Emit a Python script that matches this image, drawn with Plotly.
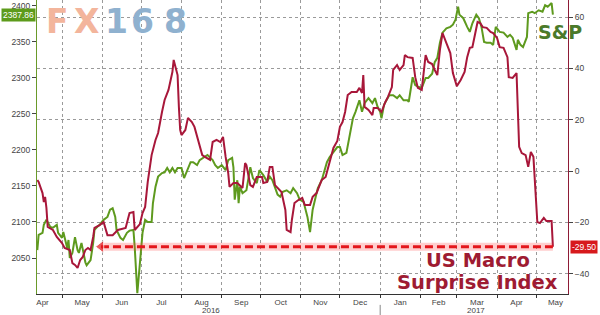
import plotly.graph_objects as go

# ---------------- data ----------------
spx_dates = [
    "2016-04-12", "2016-04-13", "2016-04-16", "2016-04-17", "2016-04-19", "2016-04-22", "2016-04-24",
    "2016-04-27", "2016-04-28", "2016-05-01", "2016-05-02", "2016-05-05", "2016-05-06", "2016-05-07",
    "2016-05-09", "2016-05-11", "2016-05-13", "2016-05-14", "2016-05-16", "2016-05-17", "2016-05-19",
    "2016-05-20", "2016-05-23", "2016-05-25", "2016-05-26", "2016-05-28", "2016-05-30", "2016-06-02",
    "2016-06-05", "2016-06-07", "2016-06-09", "2016-06-11", "2016-06-12", "2016-06-15", "2016-06-17",
    "2016-06-20", "2016-06-22", "2016-06-25", "2016-06-26", "2016-06-28", "2016-06-30", "2016-07-02",
    "2016-07-04", "2016-07-06", "2016-07-09", "2016-07-10", "2016-07-12", "2016-07-14", "2016-07-17",
    "2016-07-19", "2016-07-21", "2016-07-23", "2016-07-25", "2016-07-27", "2016-07-29", "2016-08-01",
    "2016-08-03", "2016-08-05", "2016-08-08", "2016-08-10", "2016-08-13", "2016-08-15", "2016-08-18",
    "2016-08-21", "2016-08-25", "2016-08-27", "2016-08-29", "2016-09-01", "2016-09-04", "2016-09-06",
    "2016-09-09", "2016-09-10", "2016-09-11", "2016-09-13", "2016-09-14", "2016-09-15", "2016-09-17",
    "2016-09-20", "2016-09-23", "2016-09-25", "2016-09-28", "2016-09-30", "2016-10-03", "2016-10-06",
    "2016-10-08", "2016-10-10", "2016-10-14", "2016-10-16", "2016-10-18", "2016-10-21", "2016-10-24",
    "2016-10-26", "2016-10-29", "2016-10-31", "2016-11-03", "2016-11-06", "2016-11-08", "2016-11-10",
    "2016-11-13", "2016-11-14", "2016-11-17", "2016-11-20", "2016-11-21", "2016-11-23", "2016-11-26",
    "2016-11-29", "2016-12-01", "2016-12-03", "2016-12-06", "2016-12-09", "2016-12-11", "2016-12-13",
    "2016-12-16", "2016-12-18", "2016-12-20", "2016-12-23", "2016-12-26", "2016-12-28", "2016-12-30",
    "2017-01-01", "2017-01-02", "2017-01-04", "2017-01-06", "2017-01-08", "2017-01-11", "2017-01-14",
    "2017-01-16", "2017-01-19", "2017-01-22", "2017-01-23", "2017-01-26", "2017-01-28", "2017-01-30",
    "2017-02-02", "2017-02-05", "2017-02-07", "2017-02-10", "2017-02-12", "2017-02-14", "2017-02-16",
    "2017-02-18", "2017-02-21", "2017-02-24", "2017-02-26", "2017-02-28", "2017-03-02", "2017-03-03",
    "2017-03-06", "2017-03-09", "2017-03-11", "2017-03-13", "2017-03-16", "2017-03-18", "2017-03-20",
    "2017-03-22", "2017-03-24", "2017-03-27", "2017-03-29", "2017-03-31", "2017-04-03", "2017-04-06",
    "2017-04-09", "2017-04-11", "2017-04-13", "2017-04-16", "2017-04-17", "2017-04-19", "2017-04-21",
    "2017-04-24", "2017-04-25", "2017-04-28", "2017-04-30", "2017-05-03", "2017-05-06", "2017-05-08",
    "2017-05-10", "2017-05-13", "2017-05-14",
]
spx_values = [
    2061, 2082, 2085, 2096, 2103, 2093, 2092,
    2096, 2085, 2078, 2086, 2064, 2075, 2050,
    2057, 2079, 2061, 2057, 2071, 2061, 2044,
    2040, 2047, 2071, 2089, 2093, 2096, 2103,
    2107, 2117, 2119, 2107, 2089, 2078, 2075,
    2085, 2088, 2089, 2065, 2001, 2047, 2085,
    2103, 2100, 2100, 2126, 2149, 2163, 2168,
    2169, 2175, 2169, 2175, 2169, 2175, 2175,
    2161, 2169, 2183, 2183, 2179, 2186, 2190,
    2193, 2186, 2179, 2175, 2179, 2172, 2186,
    2189, 2176, 2131, 2158, 2126, 2149, 2140,
    2144, 2176, 2161, 2154, 2172, 2165, 2156,
    2163, 2158, 2138, 2135, 2142, 2144, 2140,
    2147, 2140, 2131, 2128, 2107, 2086, 2117,
    2140, 2147, 2158, 2176, 2183, 2190, 2197,
    2204, 2204, 2193, 2196, 2224, 2244, 2253,
    2269, 2253, 2265, 2272, 2265, 2272, 2260,
    2253, 2244, 2263, 2269, 2276, 2276, 2272,
    2276, 2269, 2269, 2267, 2301, 2290, 2288,
    2286, 2300, 2300, 2306, 2322, 2328, 2349,
    2363, 2369, 2371, 2374, 2381, 2399, 2388,
    2383, 2371, 2364, 2376, 2388, 2383, 2371,
    2350, 2349, 2349, 2346, 2371, 2364, 2363,
    2357, 2360, 2356, 2339, 2353, 2346, 2343,
    2357, 2390, 2392, 2390, 2394, 2392, 2401,
    2399, 2404, 2387.86,
]

macro_dates = [
    "2016-04-12", "2016-04-13", "2016-04-16", "2016-04-17", "2016-04-18", "2016-04-19", "2016-04-20",
    "2016-04-24", "2016-04-27", "2016-05-01", "2016-05-03", "2016-05-07", "2016-05-09", "2016-05-11",
    "2016-05-13", "2016-05-15", "2016-05-17", "2016-05-19", "2016-05-21", "2016-05-23", "2016-05-25",
    "2016-05-26", "2016-05-30", "2016-06-02", "2016-06-05", "2016-06-09", "2016-06-13", "2016-06-19",
    "2016-06-22", "2016-06-25", "2016-06-26", "2016-06-30", "2016-07-02", "2016-07-04", "2016-07-06",
    "2016-07-09", "2016-07-12", "2016-07-14", "2016-07-17", "2016-07-19", "2016-07-22", "2016-07-25",
    "2016-07-26", "2016-07-29", "2016-07-30", "2016-07-31", "2016-08-01", "2016-08-04", "2016-08-06",
    "2016-08-09", "2016-08-11", "2016-08-14", "2016-08-17", "2016-08-19", "2016-08-23", "2016-08-25",
    "2016-08-28", "2016-08-31", "2016-09-02", "2016-09-04", "2016-09-06", "2016-09-07", "2016-09-10",
    "2016-09-13", "2016-09-17", "2016-09-19", "2016-09-20", "2016-09-23", "2016-09-25", "2016-09-28",
    "2016-10-02", "2016-10-03", "2016-10-06", "2016-10-08", "2016-10-10", "2016-10-12", "2016-10-14",
    "2016-10-17", "2016-10-20", "2016-10-21", "2016-10-24", "2016-10-25", "2016-10-27", "2016-10-30",
    "2016-11-02", "2016-11-04", "2016-11-08", "2016-11-10", "2016-11-13", "2016-11-17", "2016-11-20",
    "2016-11-22", "2016-11-23", "2016-11-26", "2016-11-29", "2016-12-01", "2016-12-03", "2016-12-05",
    "2016-12-07", "2016-12-10", "2016-12-14", "2016-12-16", "2016-12-18", "2016-12-19", "2016-12-20",
    "2016-12-23", "2016-12-26", "2016-12-27", "2016-12-30", "2017-01-02", "2017-01-05", "2017-01-07",
    "2017-01-10", "2017-01-11", "2017-01-14", "2017-01-16", "2017-01-19", "2017-01-20", "2017-01-22",
    "2017-01-26", "2017-01-28", "2017-01-30", "2017-02-02", "2017-02-05", "2017-02-07", "2017-02-10",
    "2017-02-12", "2017-02-14", "2017-02-16", "2017-02-18", "2017-02-21", "2017-02-24", "2017-02-26",
    "2017-03-01", "2017-03-04", "2017-03-07", "2017-03-09", "2017-03-11", "2017-03-13", "2017-03-17",
    "2017-03-19", "2017-03-21", "2017-03-24", "2017-03-27", "2017-03-29", "2017-04-01", "2017-04-03",
    "2017-04-06", "2017-04-09", "2017-04-10", "2017-04-13", "2017-04-16", "2017-04-17", "2017-04-18",
    "2017-04-20", "2017-04-23", "2017-04-25", "2017-04-27", "2017-04-29", "2017-04-30", "2017-05-02",
    "2017-05-04", "2017-05-07", "2017-05-09", "2017-05-13", "2017-05-14",
]
macro_values = [
    -3.5, -4.3, -8.6, -12.1, -10.1, -14.4, -21.8,
    -23.0, -25.7, -28.1, -30.0, -30.8, -35.9, -36.6,
    -37.8, -34.7, -33.5, -30.8, -30.0, -30.8, -25.7,
    -22.2, -21.1, -19.9, -25.0, -25.0, -23.0, -22.2,
    -16.4, -16.0, -23.0, -20.7, -16.4, -14.0, -4.3,
    6.2, 12.1, 14.8, 23.0, 27.7, 31.6, 38.6,
    43.3, 37.4, 25.0, 16.0, 14.0, 16.0, 20.7,
    19.1, 17.2, 12.1, 6.2, 5.5, 4.3, 11.3,
    12.1, 11.3, 13.3, 5.5, -0.8, -6.2, -4.7,
    -4.7, -6.6, 3.1, 2.3, -5.5, -6.2, -2.3,
    -2.3, -4.7, -4.3, 1.6, 1.6, -5.5, -6.6,
    -8.2, -15.2, -23.0, -23.8, -19.1, -12.5, -11.3,
    -10.5, -13.3, -13.3, -10.1, -8.6, -3.5, -2.3,
    1.6, 4.3, 9.0, 11.7, 17.2, 19.1, 23.0,
    29.6, 30.8, 30.8, 32.4, 30.4, 37.4, 25.0,
    23.8, 21.8, 24.6, 24.6, 23.0, 26.9, 28.9,
    32.7, 39.4, 41.3, 39.4, 41.3, 45.2, 44.4,
    44.1, 36.6, 32.4, 31.6, 45.2, 42.5, 41.7,
    39.4, 37.4, 47.2, 53.8, 49.9, 46.0, 38.2,
    33.1, 35.5, 38.6, 44.4, 48.0, 48.3, 58.1,
    57.7, 56.1, 55.8, 54.2, 53.8, 51.9, 48.3,
    48.0, 44.4, 36.6, 36.3, 38.2, 23.8, 9.4,
    7.0, 6.2, 1.6, 7.4, 5.5, -3.5, -19.9,
    -20.3, -18.3, -19.5, -19.5, -29.5,
]

arrow_start = "2016-05-31"
spx_ticks = [2050, 2100, 2150, 2200, 2250, 2300, 2350, 2400]
macro_ticks = [-40, -20, 0, 20, 40, 60]
x_range = ["2016-04-11 18:00", "2017-05-25 15:00"]

GREEN = "#5E9A1E"
RED = "#A8173A"
ARROW = "#E3161B"
FONT = "Liberation Sans, Arial, sans-serif"
BOLD = "DejaVu Sans, sans-serif"
TICK = 8.5
XTICK = 8

fig = go.Figure()
fig.add_trace(go.Scatter(x=spx_dates, y=spx_values, mode="lines",
                         line=dict(color=GREEN, width=2), yaxis="y", hoverinfo="skip"))
fig.add_trace(go.Scatter(x=macro_dates, y=macro_values, mode="lines",
                         line=dict(color=RED, width=2), yaxis="y2", hoverinfo="skip"))

last_macro = macro_values[-1]
# glow under the dashed arrow
fig.add_trace(go.Scatter(x=[arrow_start, macro_dates[-1]], y=[last_macro, last_macro],
                         mode="lines", line=dict(color="rgba(255,60,60,0.25)", width=8),
                         yaxis="y2", hoverinfo="skip"))
fig.add_trace(go.Scatter(x=[arrow_start, macro_dates[-1]], y=[last_macro, last_macro],
                         mode="lines+markers",
                         line=dict(color=ARROW, width=3, dash="8px,4px"),
                         marker=dict(symbol="triangle-left", size=[11, 0], color=ARROW),
                         yaxis="y2", hoverinfo="skip"))

fig.update_layout(
    width=600, height=315,
    margin=dict(l=37, r=32, t=0, b=21),
    paper_bgcolor="white", plot_bgcolor="white",
    showlegend=False,
    font=dict(family=FONT, size=TICK, color="#444"),
    xaxis=dict(
        type="date", range=x_range, dtick="M1", tick0="2016-05-01",
        tickformat="%b", ticklabelmode="period",
        ticks="outside", ticklen=3, tickcolor="#333", ticklabelstandoff=-3,
        showline=True, linecolor="#333", linewidth=1,
        showgrid=True, gridcolor="#9a9a9a", griddash="dot", gridwidth=1,
        tickfont=dict(size=XTICK, color="#444"),
    ),
    yaxis=dict(
        range=[2000, 2408.3], tickvals=spx_ticks, side="left",
        showline=True, linecolor="#6A9A2A", linewidth=1,
        ticks="outside", ticklen=4, tickcolor="#444",
        showgrid=False, zeroline=False,
        tickfont=dict(size=TICK, color="#444"),
    ),
    yaxis2=dict(
        range=[-47.95, 66.67], tickvals=macro_ticks, side="right", overlaying="y",
        showline=True, linecolor="#8E1B36", linewidth=1,
        ticks="outside", ticklen=4, tickcolor="#444",
        showgrid=True, gridcolor="#9a9a9a", griddash="dot", gridwidth=1,
        zeroline=False,
        tickfont=dict(size=TICK, color="#444"),
    ),
)

annotations = []
# FX168 watermark
for ch, xp, col in [("F", 0.0386, "#F3B59C"), ("X", 0.0923, "#F3B59C"),
                    ("1", 0.1497, "#8FB1CF"), ("6", 0.1987, "#8FB1CF"), ("8", 0.2599, "#8FB1CF")]:
    annotations.append(dict(text="<b>%s</b>" % ch, xref="paper", yref="paper", x=xp, y=1.0,
                            xanchor="center", yanchor="top", yshift=0, showarrow=False,
                            font=dict(family=BOLD, size=33, color=col)))
# value flags
annotations.append(dict(text="%.2f" % spx_values[-1], xref="paper", yref="y", x=0, y=spx_values[-1],
                        xanchor="right", yanchor="middle", xshift=-1, showarrow=False,
                        bgcolor="#5D9B1B", borderpad=1,
                        font=dict(family=FONT, size=TICK, color="white")))
annotations.append(dict(text="%.2f" % last_macro, xref="paper", yref="y2", x=1, y=last_macro,
                        xanchor="left", yanchor="middle", xshift=2, showarrow=False,
                        bgcolor="#D7191C", borderpad=1,
                        font=dict(family=FONT, size=TICK, color="white")))
# series labels
annotations.append(dict(text="<b>S&P</b>", xref="paper", yref="paper", x=0.985, y=0.891,
                        xanchor="center", yanchor="middle", showarrow=False,
                        font=dict(family=BOLD, size=19, color="#4B7A2A")))
annotations.append(dict(text="<b>US Macro</b>", xref="paper", yref="paper", x=0.8305, y=0.1156,
                        xanchor="center", yanchor="middle", showarrow=False,
                        font=dict(family=BOLD, size=19.5, color="#9E1B32")))
annotations.append(dict(text="<b>Surprise Index</b>", xref="paper", yref="paper", x=0.8305, y=0.038,
                        xanchor="center", yanchor="middle", showarrow=False,
                        font=dict(family=BOLD, size=19.5, color="#9E1B32")))
# year labels
annotations.append(dict(text="2016", xref="paper", yref="paper", x=0.328, y=-0.057,
                        xanchor="center", yanchor="middle", showarrow=False,
                        font=dict(family=FONT, size=XTICK, color="#444")))
annotations.append(dict(text="2017", xref="paper", yref="paper", x=0.827, y=-0.057,
                        xanchor="center", yanchor="middle", showarrow=False,
                        font=dict(family=FONT, size=XTICK, color="#444")))
fig.update_layout(annotations=annotations)

fig.add_shape(type="line", xref="x", yref="paper", x0="2017-01-01", x1="2017-01-01",
              y0=-0.072, y1=-0.037, line=dict(color="#888", width=1))

fig.write_html("out.html")
